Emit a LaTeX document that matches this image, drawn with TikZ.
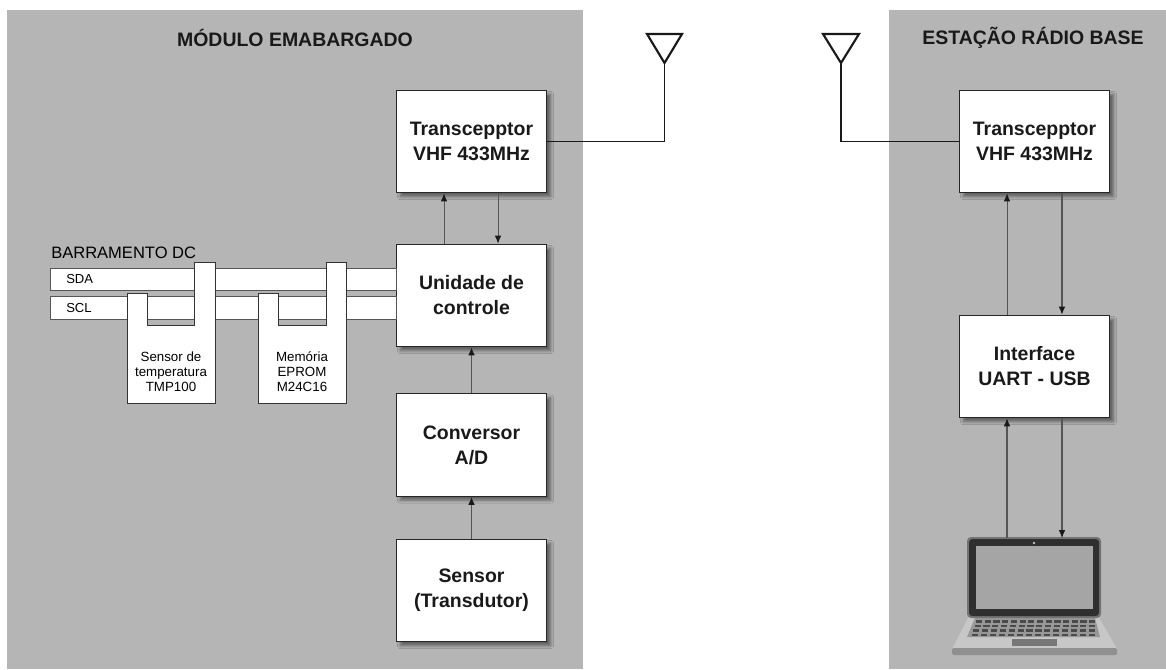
\documentclass[tikz,border=0pt]{standalone}
\usepackage{fontspec}
\setmainfont{Liberation Sans}
\usetikzlibrary{positioning, arrows.meta, calc, shadows.blur}

\definecolor{painel}{HTML}{B4B5B4}
\definecolor{linha}{HTML}{555555}
\definecolor{moldura}{HTML}{2E302F}
\definecolor{tela}{HTML}{A4A5A4}
\definecolor{teclado}{HTML}{C6C7C6}
\definecolor{base}{HTML}{8F908F}
\definecolor{tecla}{HTML}{4A4B4A}

\tikzset{
	bloco/.style={draw=black!85, fill=white, line width=0.8pt, minimum width=113pt,
		minimum height=77pt, align=center, font=\fontsize{14.6}{18.75}\selectfont\bfseries,
		text=black!90,
		blur shadow={shadow xshift=3pt, shadow yshift=-3pt, shadow blur steps=6, shadow opacity=45}},
	seta/.style={draw=linha, line width=0.8pt, -{Latex[length=6pt, width=5pt, color=black!90]}},
	barra/.style={draw=linha, fill=white, line width=0.6pt},
	chip/.style={draw=black!80, fill=white, line width=0.6pt},
	antena/.style={draw=black!90, line width=1.6pt, line join=miter},
	titulo/.style={font=\fontsize{14.6}{16}\selectfont\bfseries, text=black!90}
}

\begin{document}
\begin{tikzpicture}[x=0.75pt, y=-0.75pt]
		\useasboundingbox (0,0) rectangle (1166,669);
		%Panels
		\fill[painel] (7,10) rectangle (583,669);
		\fill[painel] (889,10) rectangle (1166,669);
		\node[titulo] (tituloE) at (295,38) {MÓDULO EMABARGADO};
		\node[titulo] (tituloD) at (1033,38) {ESTAÇÃO RÁDIO BASE};
		
		%Blocks
		\node[bloco] (transE) at (471.5,141.5) {Transcepptor\\VHF 433MHz};
		\node[bloco] (unidE) at (471.5,295.5) {Unidade de\\controle};
		\node[bloco] (convE) at (471.5,445) {Conversor\\A/D};
		\node[bloco] (sensE) at (471.5,590.5) {Sensor\\(Transdutor)};
		\node[bloco] (transD) at (1034.5,141.5) {Transcepptor\\VHF 433MHz};
		\node[bloco] (usbD) at (1034.5,366.5) {Interface\\UART - USB};
		
		%Bus
		\node[anchor=west, font=\fontsize{12.4}{14}\selectfont, inner sep=0pt] (barramento) at (51,253)
		{BARRAMENTO DC};
		\draw[barra] (50,268) rectangle (396,290);
		\draw[barra] (50,296) rectangle (396,319);
		\node[anchor=west, font=\fontsize{9.8}{11}\selectfont, inner sep=0pt] (sda) at (66,279) {SDA};
		\node[anchor=west, font=\fontsize{9.8}{11}\selectfont, inner sep=0pt] (scl) at (66,307.5) {SCL};
		
		\draw[chip] (127,403) -- (127,293) -- (147,293) -- (147,325) -- (194,325) -- (194,262)
		-- (215,262) -- (215,403) -- cycle;
		\draw[chip] (258,403) -- (258,293) -- (278,293) -- (278,325) -- (326,325) -- (326,262)
		-- (346,262) -- (346,403) -- cycle;
		\node[align=center, font=\fontsize{10}{11.25}\selectfont] (tempS) at (171,372)
		{Sensor de\\temperatura\\TMP100};
		\node[align=center, font=\fontsize{10}{11.25}\selectfont] (memS) at (302,372)
		{Memória\\EPROM\\M24C16};
		
		%Antennas
		\draw[antena] (647,34) -- (682,34) -- (664.5,63) -- cycle;
		\draw[antena] (823,34) -- (859,34) -- (841,63) -- cycle;
		\coordinate (antE) at (664.5,63);
		\coordinate (antD) at (841,63);
		\draw[black!90, line width=1pt] (transE.east) -| (antE);
		\draw[black!90, line width=1pt] (transD.west) -| (antD);
		
		%Laptop
		\fill[teclado] (970,614) -- (1097,614) -- (1117,649) -- (952,649) -- cycle;
		\fill[base, rounded corners=1.5pt] (952,648) rectangle (1117,655);
		\fill[black!10!teclado!85!black] (975,618) -- (1095,618) -- (1100,637) -- (967,637) -- cycle;
		\foreach \r/\y in {0/620, 1/624.5, 2/629, 3/633.5} {
			\foreach \k in {0,...,13} {
				\fill[tecla] ({976-1.5*\r+\k*8.7+0.2*\r*\k*0.5},\y) rectangle ++(6.2,2.6);
			}
		}
		\fill[black!10!tela!80!black] (1012,639) rectangle (1057,646);
		\fill[tela!70!black, rounded corners=3pt] (967,537) rectangle (1101,618);
		\fill[moldura, rounded corners=2.5pt] (969,539) rectangle (1099,616);
		\fill[tela] (976,546) rectangle (1093,609);
		\fill[black!25] (1034,543) circle (1.3);
		\coordinate (lapL) at (1007,538);
		\coordinate (lapR) at (1062,538);
		
		%Connections
		\draw[seta] ([xshift=-20.6pt]unidE.north) -- ([xshift=-20.6pt]transE.south);
		\draw[seta] ([xshift=19.9pt]transE.south) -- ([xshift=19.9pt]unidE.north);
		\draw[seta] (convE) -- (unidE);
		\draw[seta] (sensE) -- (convE);
		\draw[seta] ([xshift=-20.6pt]usbD.north) -- ([xshift=-20.6pt]transD.south);
		\draw[seta] ([xshift=20.6pt]transD.south) -- ([xshift=20.6pt]usbD.north);
		\draw[seta] (lapL) -- (lapL |- usbD.south);
		\draw[seta] (lapR |- usbD.south) -- (lapR);
		\end{tikzpicture}
\end{document}
